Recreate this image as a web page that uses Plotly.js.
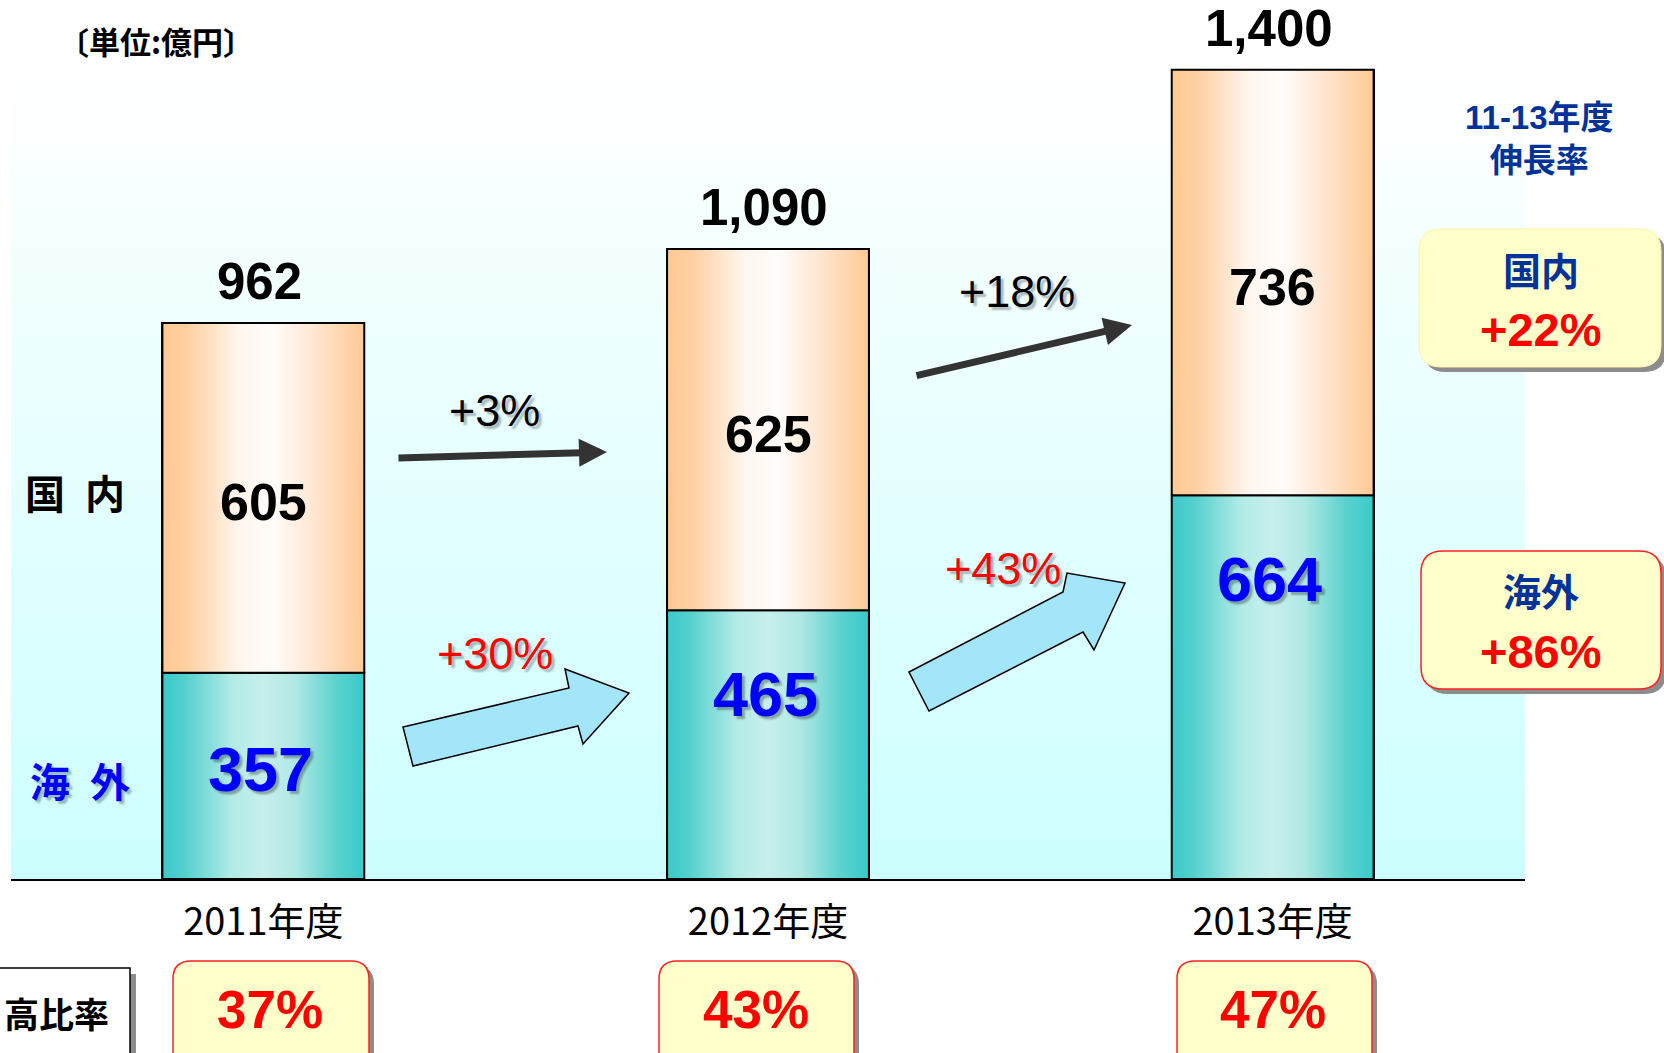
<!DOCTYPE html>
<html>
<head>
<meta charset="utf-8">
<script src="https://cdn.plot.ly/plotly-3.0.1.min.js"></script>
<style>html,body{margin:0;padding:0;background:#fff;}#chart{width:1664px;height:1053px;}</style>
</head>
<body>
<div id="chart"></div>
<script>
// ---------------- data ----------------
const years = ['2011年度', '2012年度', '2013年度'];
const domestic = [605, 625, 736];          // 国内
const overseas = [357, 465, 664];          // 海外
const domGrowth = ['+3%', '+18%'];         // 国内 year-over-year
const ovsGrowth = ['+30%', '+43%'];        // 海外 year-over-year
const ovsRatio = ['37%', '43%', '47%'];    // 海外売上高比率
const cagrNames = ['国内', '海外'];         // 11-13年度 伸長率
const cagrValues = ['+22%', '+86%'];
const unitLabel = '〔単位:億円〕';
const ratioLabel = '高比率';
const cagrTitle = ['11-13年度', '伸長率'];
const seriesNames = ['国\u2002内', '海\u2002外'];

// ---------------- layout helpers ----------------
const W = 1664, H = 1053;
const PL = 11, PR = 139, PT = 60, PB = 174;
const PW = W - PL - PR, PH = H - PT - PB;
const X = px => (px - PL) / PW;
const Y = py => (PT + PH - py) / PH;
const LAT = 'Liberation Sans, Arial, Noto Sans CJK JP, sans-serif';
const CJK = 'Noto Sans CJK JP, sans-serif';
const SH = '3px 3px 2px rgba(0,0,0,0.28)';

const xs = years.map((_, i) => i);
const totals = domestic.map((d, i) => d + overseas[i]);
const BW = 0.4;

const domScale = [[0, '#ffc994'], [0.12, '#ffcfa0'], [0.38, '#fff6ee'], [0.55, '#fffcfa'], [0.75, '#ffe6d2'], [1, '#ffc994']];
const ovsScale = [[0, '#3cc9c9'], [0.1, '#50cfcd'], [0.35, '#b4ebe7'], [0.5, '#c6efec'], [0.66, '#afe8e4'], [0.86, '#5cd2cf'], [1, '#38caca']];

const traces = [
  {type: 'bar', name: '海外', x: xs, y: overseas, width: BW,
   marker: {color: '#8fdcdb', line: {color: '#000', width: 2}}, hoverinfo: 'skip'},
  {type: 'bar', name: '国内', x: xs, y: domestic, width: BW,
   marker: {color: '#ffe4cc', line: {color: '#000', width: 2}}, hoverinfo: 'skip'}
];
xs.forEach(i => {
  const xl = i - BW / 2, xr = i + BW / 2;
  traces.push({type: 'scatter', mode: 'lines', x: [xl, xr, xr, xl, xl], y: [0, 0, overseas[i], overseas[i], 0],
    fill: 'toself', fillcolor: '#9fe2df', fillgradient: {type: 'horizontal', start: xl, stop: xr, colorscale: ovsScale},
    line: {color: '#000', width: 2}, hoverinfo: 'skip', showlegend: false});
  traces.push({type: 'scatter', mode: 'lines', x: [xl, xr, xr, xl, xl], y: [overseas[i], overseas[i], totals[i], totals[i], overseas[i]],
    fill: 'toself', fillcolor: '#ffe8d4', fillgradient: {type: 'horizontal', start: xl, stop: xr, colorscale: domScale},
    line: {color: '#000', width: 2}, hoverinfo: 'skip', showlegend: false});
});

// ---------------- shapes ----------------
function rr(x0, y0, x1, y1, r) {
  const P = (a, b) => X(a).toFixed(5) + ',' + Y(b).toFixed(5);
  return 'M' + P(x0 + r, y0) + ' L' + P(x1 - r, y0) + ' Q' + P(x1, y0) + ' ' + P(x1, y0 + r) +
    ' L' + P(x1, y1 - r) + ' Q' + P(x1, y1) + ' ' + P(x1 - r, y1) +
    ' L' + P(x0 + r, y1) + ' Q' + P(x0, y1) + ' ' + P(x0, y1 - r) +
    ' L' + P(x0, y0 + r) + ' Q' + P(x0, y0) + ' ' + P(x0 + r, y0) + ' Z';
}
function poly(pts) {
  return 'M' + pts.map(p => X(p[0]).toFixed(5) + ',' + Y(p[1]).toFixed(5)).join(' L') + ' Z';
}
const shapes = [];
function box(x0, y0, x1, y1, r, fill, line, lw) {
  shapes.push({type: 'path', xref: 'paper', yref: 'paper', path: rr(x0 + 5, y0 + 5, x1 + 5, y1 + 5, r),
    fillcolor: '#8c8c8c', line: {width: 0}, layer: 'above'});
  shapes.push({type: 'path', xref: 'paper', yref: 'paper', path: rr(x0, y0, x1, y1, r),
    fillcolor: fill, line: {color: line, width: lw}, layer: 'above'});
}
// block arrows (overseas growth)
const blockArrows = [
  [[403, 727], [569, 688], [565, 669], [629, 693], [583, 744], [578, 726], [413, 766]],
  [[909, 672], [1063, 592], [1067, 573], [1125, 583], [1094, 650], [1083, 632], [929, 711]]
];
blockArrows.forEach(a => shapes.push({type: 'path', xref: 'paper', yref: 'paper', path: poly(a),
  fillcolor: '#a3e6fa', line: {color: '#000', width: 1.5}, layer: 'above'}));
// CAGR boxes
box(1419, 229, 1661, 367, 22, '#ffffcc', '#fff2a8', 1);
box(1421, 551, 1661, 689, 22, '#ffffcc', '#ff2020', 1.5);
// ratio boxes
const ratioBoxes = [[173, 369, 270], [659, 854, 756], [1177, 1372, 1273]];
ratioBoxes.forEach(b => box(b[0], 961, b[1], 1075, 18, '#ffffcc', '#ff2020', 1.5));
// 高比率 label box
shapes.push({type: 'rect', xref: 'paper', yref: 'paper', x0: X(-10 + 6), x1: X(130 + 6), y0: Y(968 + 6), y1: Y(1080),
  fillcolor: '#8c8c8c', line: {width: 0}, layer: 'above'});
shapes.push({type: 'rect', xref: 'paper', yref: 'paper', x0: X(-10), x1: X(130), y0: Y(968), y1: Y(1080),
  fillcolor: '#ffffff', line: {color: '#000', width: 1.5}, layer: 'above'});

// ---------------- annotations ----------------
const ann = [];
function txt(px, py, text, size, color, family, bold, shadow, extra) {
  ann.push(Object.assign({xref: 'paper', yref: 'paper', x: X(px), y: Y(py), xanchor: 'center', yanchor: 'middle',
    text: text, showarrow: false,
    font: {size: size, color: color, family: family, weight: bold ? 700 : 400, shadow: shadow || 'none'}}, extra || {}));
}
const overseasDrop = [96, 84, 84];
xs.forEach(i => {
  ann.push({xref: 'x', yref: 'y', x: i, y: totals[i], xshift: -4, yshift: 41, yanchor: 'middle', showarrow: false,
    text: totals[i].toLocaleString('en-US'), font: {size: 51, color: '#000', family: LAT, weight: 700}});
  ann.push({xref: 'x', yref: 'y', x: i, y: overseas[i] + domestic[i] / 2, yshift: -4, yanchor: 'middle', showarrow: false,
    text: String(domestic[i]), font: {size: 52, color: '#000', family: LAT, weight: 700}});
  ann.push({xref: 'x', yref: 'y', x: i, y: overseas[i], xshift: -3, yshift: -overseasDrop[i], yanchor: 'middle', showarrow: false,
    text: String(overseas[i]), font: {size: 63, color: '#0000ff', family: LAT, weight: 700, shadow: '3px 3px 2px rgba(0,0,0,0.3)'}});
});
// growth labels
txt(494, 410, domGrowth[0], 45, '#000', LAT, false, SH);
txt(1017, 291, domGrowth[1], 45, '#000', LAT, false, SH);
txt(495, 653, ovsGrowth[0], 45, '#ff0000', LAT, false, SH);
txt(1003, 568, ovsGrowth[1], 45, '#ff0000', LAT, false, SH);
// black arrows (domestic growth)
const lineArrows = [[397, 458, 607, 452], [915, 376, 1132, 325]];
lineArrows.forEach(a => ann.push({xref: 'paper', yref: 'paper', x: X(a[2]), y: Y(a[3]), ax: a[0] - a[2], ay: a[1] - a[3],
  text: '', showarrow: true, arrowhead: 2, arrowsize: 0.8, arrowwidth: 7, arrowcolor: '#333333', standoff: 0}));
// side labels
txt(75, 492, seriesNames[0], 40, '#000', CJK, true);
txt(80, 780, seriesNames[1], 40, '#0000ff', CJK, true, SH);
txt(156, 40, unitLabel, 31, '#000', CJK, true);
// CAGR
txt(1539, 139, cagrTitle.join('<br>'), 33, '#003399', LAT, true);
txt(1541, 268, cagrNames[0], 38, '#003399', CJK, true);
txt(1541, 329, cagrValues[0], 47, '#ff0000', LAT, true);
txt(1541, 590, cagrNames[1], 38, '#003399', CJK, true);
txt(1541, 651, cagrValues[1], 47, '#ff0000', LAT, true);
// ratio row
ratioBoxes.forEach((b, i) => txt(b[2], 1010, ovsRatio[i], 53, '#ff0000', LAT, true));
txt(2, 1012, ratioLabel, 35, '#000', CJK, true, null, {xanchor: 'left'});

// background gradient image
const bgSvg = "<svg xmlns='http://www.w3.org/2000/svg' width='100' height='100' preserveAspectRatio='none'>" +
  "<defs><linearGradient id='g' x1='0' y1='0' x2='0' y2='1'><stop offset='0' stop-color='#ffffff'/>" +
  "<stop offset='1' stop-color='#ccffff'/></linearGradient></defs><rect width='100' height='100' fill='url(#g)'/></svg>";

const layout = {
  width: W, height: H,
  margin: {l: PL, r: PR, t: PT, b: PB, pad: 0},
  paper_bgcolor: '#ffffff', plot_bgcolor: 'rgba(0,0,0,0)',
  barmode: 'stack', showlegend: false,
  xaxis: {range: [-0.5, 2.5], tickvals: xs, ticktext: years, showgrid: false, zeroline: false,
    showline: true, linecolor: '#000', linewidth: 2, ticks: '', ticklabelstandoff: 8,
    tickfont: {size: 38, color: '#000', family: CJK}, fixedrange: true},
  yaxis: {range: [0, PH / 0.578], showgrid: false, zeroline: false, showticklabels: false, showline: false, fixedrange: true},
  images: [{source: 'data:image/svg+xml;charset=utf-8,' + encodeURIComponent(bgSvg), xref: 'paper', yref: 'paper',
    x: 0, y: Y(74), sizex: 1, sizey: Y(74), xanchor: 'left', yanchor: 'top', sizing: 'stretch', layer: 'below'}],
  shapes: shapes,
  annotations: ann
};
Plotly.newPlot('chart', traces, layout, {displayModeBar: false, staticPlot: true});
</script>
</body>
</html>
